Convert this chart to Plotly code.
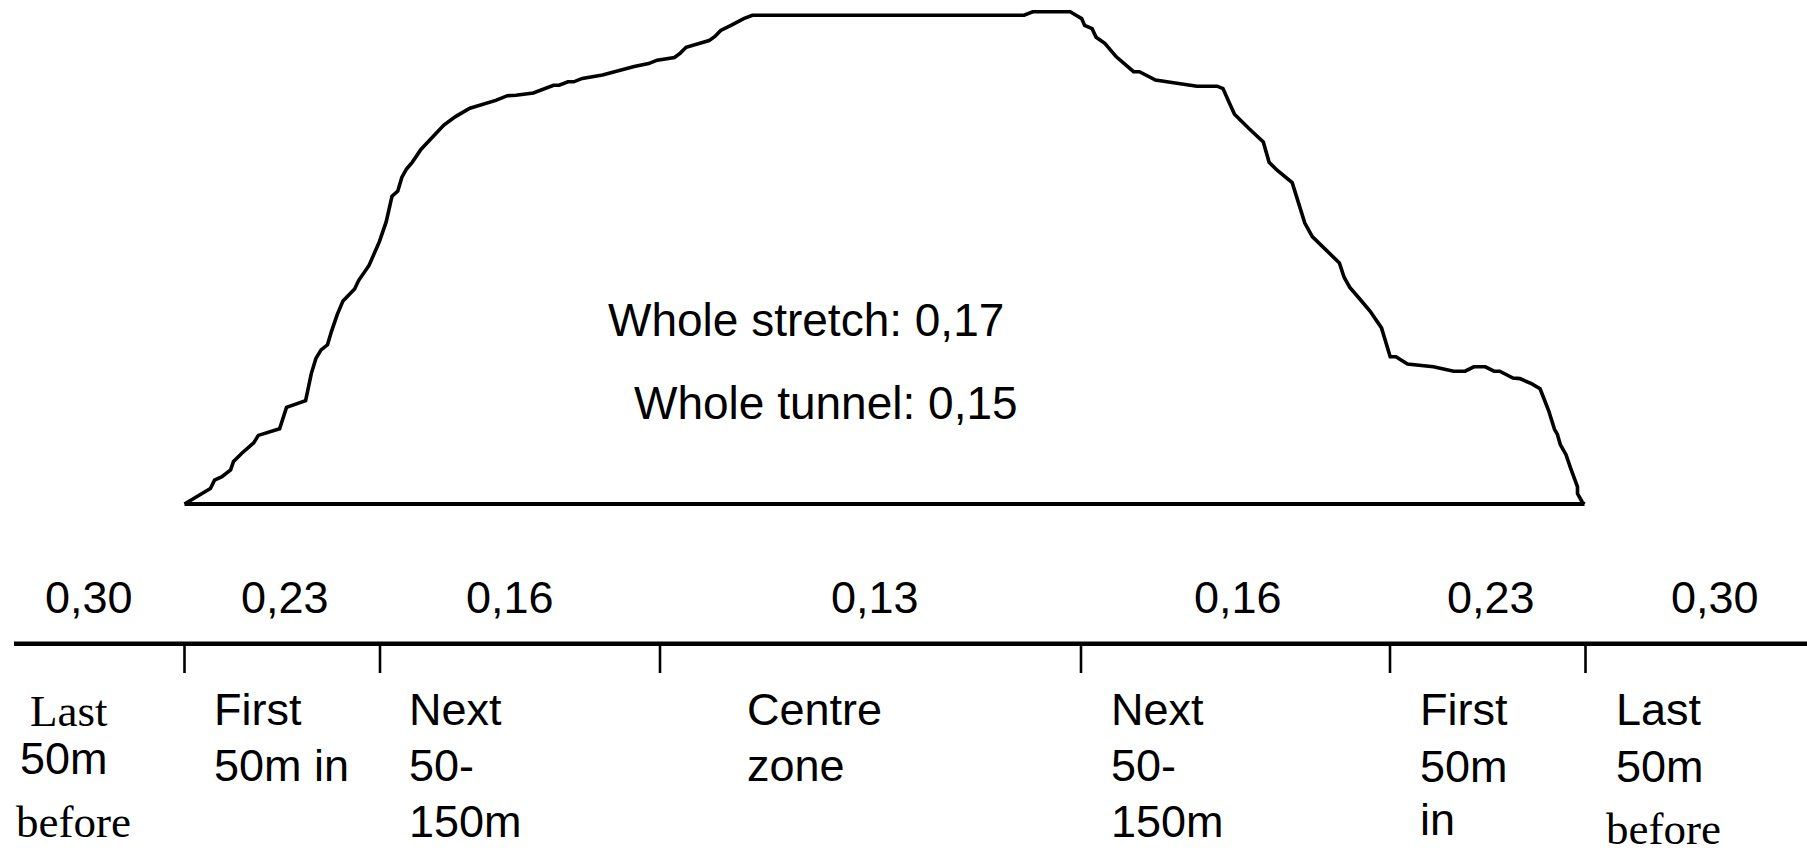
import plotly.graph_objects as go

# ---------------- data ----------------
# schematic profile along the stretch (x: position, y: relative level above baseline)
profile_x = [184.5, 196.0, 210.4, 214.5, 222.0, 230.6, 233.5, 242.1, 253.7, 258.3,
             279.6, 286.5, 305.6, 311.3, 315.9, 321.1, 327.5, 331.5, 337.3, 343.0,
             354.6, 358.6, 369.0, 379.4, 386.3, 392.0, 397.8, 401.8, 406.5, 412.2,
             420.9, 431.2, 443.9, 455.5, 469.9, 475.6, 495.8, 507.4, 516.0, 533.3,
             544.8, 553.5, 559.2, 567.9, 573.7, 582.3, 602.5, 619.8, 634.2, 648.6,
             657.2, 674.5, 680.3, 686.1, 709.1, 714.9, 720.7, 731.0, 743.7, 752.4,
             1024.1, 1032.7, 1070.2, 1076.0, 1081.7, 1084.6, 1092.1, 1096.1, 1104.8, 1116.3,
             1125.0, 1133.6, 1139.4, 1148.0, 1155.5, 1176.9, 1197.0, 1217.2, 1223.0, 1228.7,
             1234.5, 1248.9, 1263.3, 1269.1, 1277.7, 1292.2, 1300.8, 1304.8, 1312.3, 1326.8,
             1339.4, 1344.1, 1349.8, 1358.5, 1370.0, 1381.5, 1390.2, 1395.9, 1407.5, 1433.4,
             1453.6, 1465.1, 1473.8, 1485.3, 1494.0, 1499.7, 1513.0, 1519.9, 1531.4, 1540.1,
             1548.7, 1554.5, 1557.4, 1560.3, 1566.0, 1570.6, 1574.7, 1577.5, 1577.5, 1582.2,
             1584.5]
profile_y = [0.0, 7.0, 15.5, 23.9, 27.3, 34.1, 42.5, 51.0, 61.1, 68.6,
             75.3, 96.6, 103.4, 130.4, 145.6, 154.1, 159.2, 172.7, 189.6, 203.1,
             215.0, 223.4, 238.6, 262.3, 282.6, 307.9, 313.0, 326.5, 335.0, 341.7,
             354.6, 365.4, 378.9, 387.4, 395.8, 397.5, 403.6, 408.3, 408.7, 411.0,
             415.1, 418.8, 418.8, 422.2, 422.2, 425.6, 428.9, 433.7, 437.4, 440.4,
             443.8, 446.5, 450.9, 456.7, 463.4, 467.5, 473.6, 478.6, 485.4, 488.8,
             488.8, 492.2, 492.2, 488.8, 485.4, 478.6, 475.3, 466.8, 460.7, 447.2,
             439.1, 432.3, 432.3, 427.9, 423.9, 420.8, 417.8, 417.8, 415.4, 402.6,
             389.7, 375.5, 362.0, 341.7, 333.3, 321.4, 294.4, 280.9, 267.4, 253.8,
             241.0, 226.8, 216.6, 206.5, 193.0, 176.1, 147.3, 147.3, 139.9, 137.2,
             132.8, 132.8, 137.2, 137.2, 132.8, 132.8, 126.0, 125.4, 120.3, 115.2,
             93.2, 74.7, 69.6, 59.4, 49.3, 35.8, 25.6, 17.2, 10.4, 2.0,
             0.0]

# zone boundaries on the lower scale
zone_edges = [184.5, 380.0, 660.0, 1081.0, 1390.0, 1585.5]
scale_start, scale_end = 14.0, 1807.0

# zone values
zone_values = ["0,30", "0,23", "0,16", "0,13", "0,16", "0,23", "0,30"]

# zone names (one entry per line)
zone_names = [
    ["Last", "50m", "before"],
    ["First", "50m in"],
    ["Next", "50-", "150m"],
    ["Centre", "zone"],
    ["Next", "50-", "150m"],
    ["First", "50m", "in"],
    ["Last", "50m", "before"],
]

summary_texts = ["Whole stretch: 0,17", "Whole tunnel: 0,15"]

# ---------------- layout helpers ----------------
SANS = "Liberation Sans, Arial, sans-serif"
SERIF = "Liberation Serif, Times New Roman, serif"
FS = 45

axis_y = -139.8
tick_bottom = -169.0

value_x = [88.7, 285.0, 510.0, 874.7, 1237.7, 1490.6, 1715.3]
value_y = -93.7

name_x = [
    [28, 18, 14],
    [212, 212],
    [407, 407, 407],
    [745, 745],
    [1109, 1109, 1109],
    [1418, 1418, 1418],
    [1614, 1614, 1604],
]
name_y = [
    [-206.5, -254.4, -317.5],
    [-205.5, -261.0],
    [-205.5, -261.0, -317.0],
    [-205.5, -261.0],
    [-205.5, -261.0, -317.0],
    [-205.5, -262.0, -315.4],
    [-205.5, -262.0, -325.0],
]
name_font = [
    [SERIF, SANS, SERIF],
    [SANS, SANS],
    [SANS, SANS, SANS],
    [SANS, SANS],
    [SANS, SANS, SANS],
    [SANS, SANS, SANS],
    [SANS, SANS, SERIF],
]

fig = go.Figure()

# profile curve
fig.add_trace(go.Scatter(
    x=profile_x, y=profile_y, mode="lines",
    line=dict(color="black", width=3.6), hoverinfo="skip"))

# baseline of the profile
fig.add_trace(go.Scatter(
    x=[profile_x[0], profile_x[-1]], y=[profile_y[0], profile_y[-1]], mode="lines",
    line=dict(color="black", width=4.0), hoverinfo="skip"))

# lower scale line
fig.add_trace(go.Scatter(
    x=[scale_start, scale_end], y=[axis_y, axis_y], mode="lines",
    line=dict(color="black", width=4.5), hoverinfo="skip"))

# ticks at zone edges
tx, ty = [], []
for e in zone_edges:
    tx += [e, e, None]
    ty += [axis_y, tick_bottom, None]
fig.add_trace(go.Scatter(
    x=tx, y=ty, mode="lines",
    line=dict(color="black", width=2.6), hoverinfo="skip"))

annotations = []
# summary texts
annotations.append(dict(x=606, y=184, text=summary_texts[0], xanchor="left", yanchor="middle",
                        showarrow=False, font=dict(family=SANS, size=46, color="black")))
annotations.append(dict(x=631.5, y=101.5, text=summary_texts[1], xanchor="left", yanchor="middle",
                        showarrow=False, font=dict(family=SANS, size=46, color="black")))

# zone values
for xv, t in zip(value_x, zone_values):
    annotations.append(dict(x=xv, y=value_y, text=t, xanchor="center", yanchor="middle",
                            showarrow=False, font=dict(family=SANS, size=FS, color="black")))

# zone names
for i, lines in enumerate(zone_names):
    for j, t in enumerate(lines):
        annotations.append(dict(x=name_x[i][j], y=name_y[i][j], text=t,
                                xanchor="left", yanchor="middle", showarrow=False,
                                font=dict(family=name_font[i][j], size=FS, color="black")))

fig.update_layout(
    width=1807, height=854,
    margin=dict(l=0, r=0, t=0, b=0),
    paper_bgcolor="white", plot_bgcolor="white",
    showlegend=False,
    xaxis=dict(range=[0, 1807], visible=False, fixedrange=True),
    yaxis=dict(range=[-350, 504], visible=False, fixedrange=True),
    annotations=annotations,
)

fig.write_html("out.html",
               config={"displayModeBar": False},
               post_script="document.body.style.margin='0px';document.body.style.overflow='hidden';")
